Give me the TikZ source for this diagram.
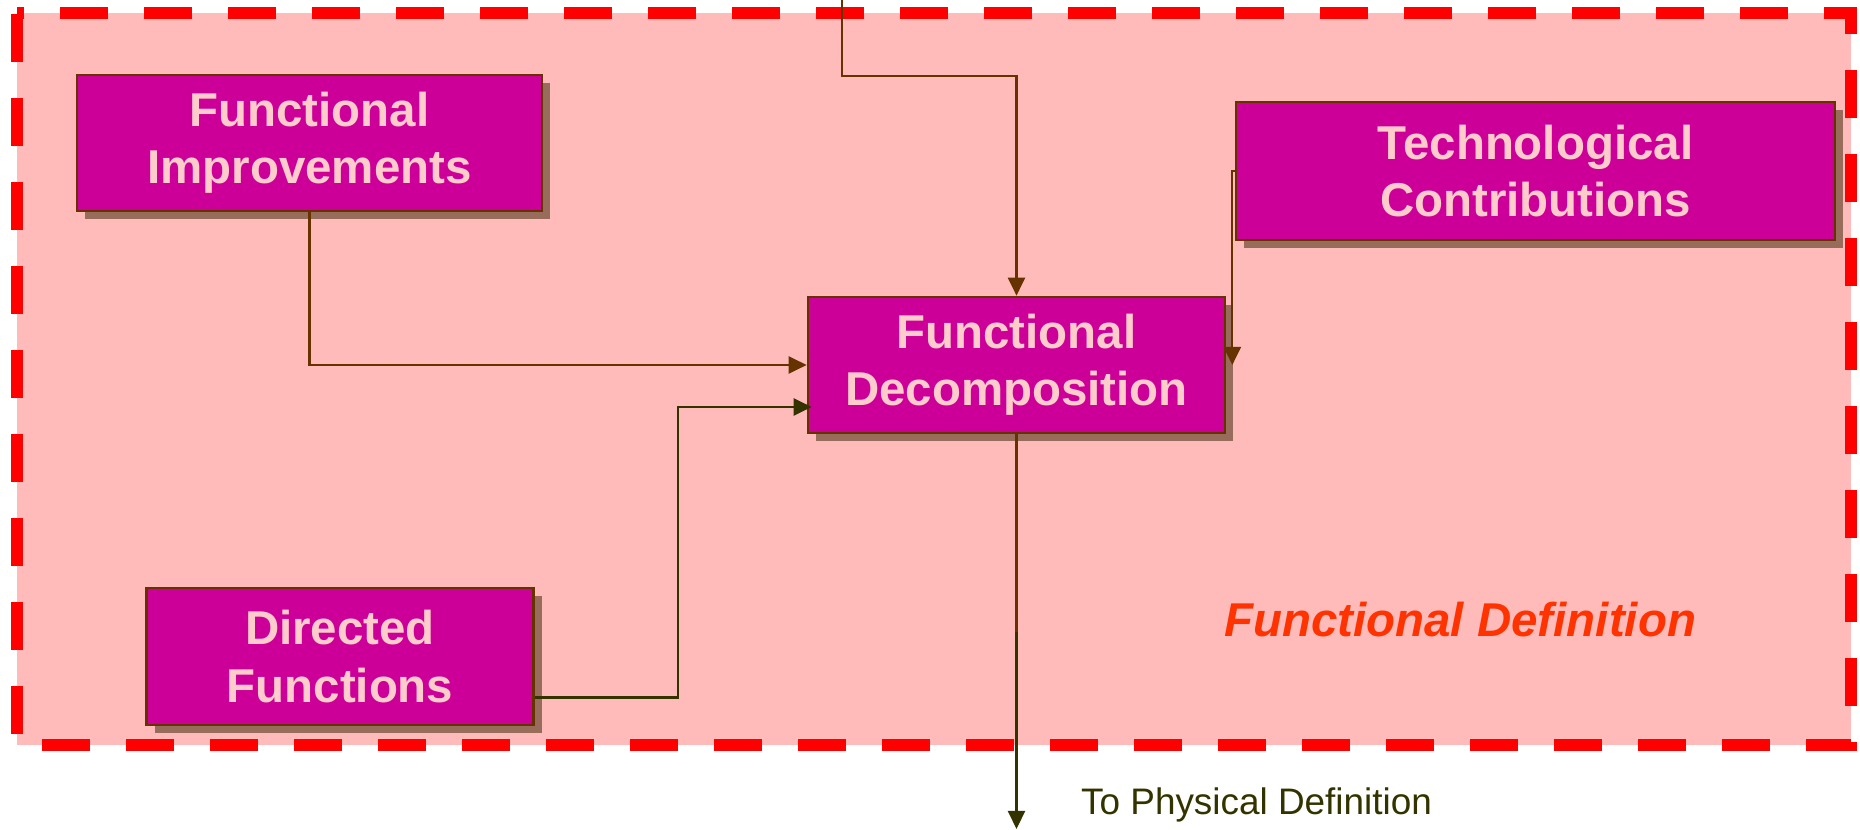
\documentclass[tikz,border=0pt]{standalone}
\usepackage{fontspec}
\setmainfont{Liberation Sans}
\usepackage{tikz}
\usetikzlibrary{arrows.meta,shadows}
\definecolor{bgpink}{RGB}{255,186,186}
\definecolor{boxmag}{RGB}{204,0,153}
\definecolor{boxedge}{RGB}{102,51,0}
\definecolor{boxtext}{RGB}{255,204,204}
\definecolor{shade}{RGB}{140,100,80}
\definecolor{olivedark}{RGB}{51,51,0}
\definecolor{deforange}{RGB}{255,51,0}
\tikzset{
         funcbox/.style=
          {
           draw=boxedge, line width=1.5pt, fill=boxmag,
           text=boxtext, font=\fontsize{27}{32.5}\selectfont\bfseries,
           align=center, inner sep=0pt, minimum height=2.72cm,
           drop shadow={shadow xshift=.16cm, shadow yshift=-.16cm, fill=shade, opacity=.9}
          },
         link/.style={draw=boxedge, line width=1.25pt},
         linkol/.style={draw=olivedark, line width=1.25pt},
         tip/.style={-{Triangle[length=.36cm,width=.34cm]}}
        }

\begin{document}
\begin{tikzpicture}
\useasboundingbox (0,0) rectangle (37.2,16.6);
%area of functional definition
\fill[bgpink](.34,1.70)rectangle(37.02,16.34);
\draw[red,line width=.24cm,dash pattern=on .96cm off .72cm,dash phase=.82cm]
  (.34,16.34)--(37.02,16.34)--(37.02,1.70)--(.34,1.70)--cycle;
%boxes
\node[funcbox,minimum width=9.30cm] (improv) at (6.19,13.74) {Functional\\Improvements};
\node[funcbox,minimum width=8.34cm] (decomp) at (20.33,9.30) {Functional\\Decomposition};
\node[funcbox,minimum width=11.98cm,minimum height=2.76cm] (techno) at (30.71,13.18) {Technological\\Contributions};
\node[funcbox,minimum width=7.74cm,minimum height=2.74cm] (directed) at (6.80,3.47) {Directed\\Functions};
%labels
\node[anchor=base west,text=deforange,font=\fontsize{27}{32}\selectfont\bfseries\itshape] (fdef) at (24.36,3.86) {Functional Definition};
\node[anchor=base west,text=olivedark,font=\fontsize{21}{25}\selectfont] (physdef) at (21.50,.30) {To Physical Definition};
%loose ends
\coordinate (intop) at (16.84,16.6);
\coordinate (split) at (20.33,3.96);
\coordinate (tophys) at (20.33,.02);
%connections
\draw[link,tip](intop)--++(0,-1.52)-|(decomp.north);
\draw[link,tip](improv.south)|-(decomp.west);
\draw[linkol,tip]([yshift=-.82cm]directed.east)--++(2.86,0)|-([xshift=.1cm,yshift=-.84cm]decomp.west);
\draw[link,tip](techno.west)-|([xshift=.12cm]decomp.east);
\draw[link](decomp.south)--(split);
\draw[linkol,tip](split)--(tophys);
\end{tikzpicture}
\end{document}
